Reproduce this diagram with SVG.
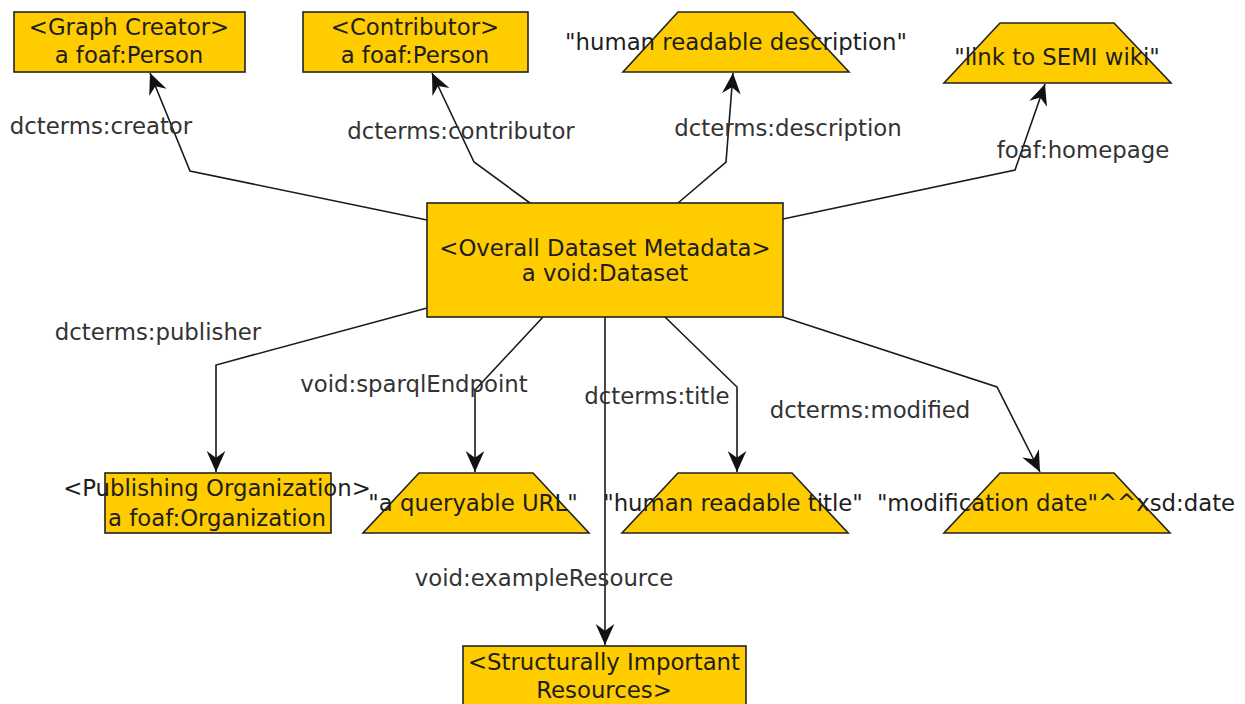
<svg xmlns="http://www.w3.org/2000/svg" width="1245" height="704" viewBox="0 0 1245 704">
  <defs>
    <marker id="arr" markerUnits="userSpaceOnUse" markerWidth="26" markerHeight="22" viewBox="-20 -10 22 20" refX="0" refY="0" orient="auto">
      <path d="M0,0 L-19,-8.5 L-13,0 L-19,8.5 Z" fill="#111"/>
    </marker>
    <style>
      .node { fill: #FFCC00; stroke: #222; stroke-width: 1.6; }
      .nt { font-family: "DejaVu Sans", "Liberation Sans", sans-serif; font-size: 22.8px; fill: #1e1e1e; text-anchor: middle; }
      .lbl { font-family: "DejaVu Sans", "Liberation Sans", sans-serif; font-size: 22.8px; fill: #333; text-anchor: middle; }
      .edge { fill: none; stroke: #1a1a1a; stroke-width: 1.6; marker-end: url(#arr); }
    </style>
  </defs>
  <rect width="1245" height="704" fill="#ffffff"/>

  <g id="connectors">
    <polyline class="edge" points="427,220 190,171 150,73"/>
    <polyline class="edge" points="530,203 474,162 432,73"/>
    <polyline class="edge" points="678,203 726,162 733,73"/>
    <polyline class="edge" points="783,219 1015,170 1045,84"/>
    <polyline class="edge" points="427,308 216,365 216,472"/>
    <polyline class="edge" points="543,317 475,390 475,472"/>
    <polyline class="edge" points="605,317 605,645"/>
    <polyline class="edge" points="665,317 737,387 737,472"/>
    <polyline class="edge" points="783,317 997,387 1040,472"/>
  </g>

  <g id="edge-labels">
    <text class="lbl" x="101" y="134">dcterms:creator</text>
    <text class="lbl" x="461" y="139">dcterms:contributor</text>
    <text class="lbl" x="788" y="136">dcterms:description</text>
    <text class="lbl" x="1083" y="158">foaf:homepage</text>
    <text class="lbl" x="158" y="340">dcterms:publisher</text>
    <text class="lbl" x="414" y="392">void:sparqlEndpoint</text>
    <text class="lbl" x="657" y="404">dcterms:title</text>
    <text class="lbl" x="870" y="418">dcterms:modified</text>
    <text class="lbl" x="544" y="586">void:exampleResource</text>
  </g>

  <g id="graph-creator">
    <rect class="node" x="14" y="12" width="231" height="60"/>
    <text class="nt" x="129" y="35">&lt;Graph Creator&gt;</text>
    <text class="nt" x="129" y="63">a foaf:Person</text>
  </g>
  <g id="contributor">
    <rect class="node" x="303" y="12" width="225" height="60"/>
    <text class="nt" x="415" y="35">&lt;Contributor&gt;</text>
    <text class="nt" x="415" y="63">a foaf:Person</text>
  </g>
  <g id="description">
    <polygon class="node" points="678,12 793,12 849,72 623,72"/>
    <text class="nt" x="736" y="50">"human readable description"</text>
  </g>
  <g id="homepage">
    <polygon class="node" points="1000,23 1114,23 1171,83 944,83"/>
    <text class="nt" x="1057" y="65">"link to SEMI wiki"</text>
  </g>
  <g id="dataset">
    <rect class="node" x="427" y="203" width="356" height="114"/>
    <text class="nt" x="605" y="256">&lt;Overall Dataset Metadata&gt;</text>
    <text class="nt" x="605" y="281">a void:Dataset</text>
  </g>
  <g id="publisher">
    <rect class="node" x="105" y="473" width="226" height="60"/>
    <text class="nt" x="217" y="496">&lt;Publishing Organization&gt;</text>
    <text class="nt" x="217" y="526">a foaf:Organization</text>
  </g>
  <g id="sparql">
    <polygon class="node" points="419,473 533,473 589,533 363,533"/>
    <text class="nt" x="473" y="511">"a queryable URL"</text>
  </g>
  <g id="title">
    <polygon class="node" points="678,473 792,473 848,533 622,533"/>
    <text class="nt" x="733" y="511">"human readable title"</text>
  </g>
  <g id="modified">
    <polygon class="node" points="1000,473 1114,473 1170,533 944,533"/>
    <text class="nt" x="1056" y="511">"modification date"^^xsd:date</text>
  </g>
  <g id="example-resource">
    <rect class="node" x="463" y="646" width="283" height="62"/>
    <text class="nt" x="604" y="670">&lt;Structurally Important</text>
    <text class="nt" x="604" y="698">Resources&gt;</text>
  </g>
</svg>
